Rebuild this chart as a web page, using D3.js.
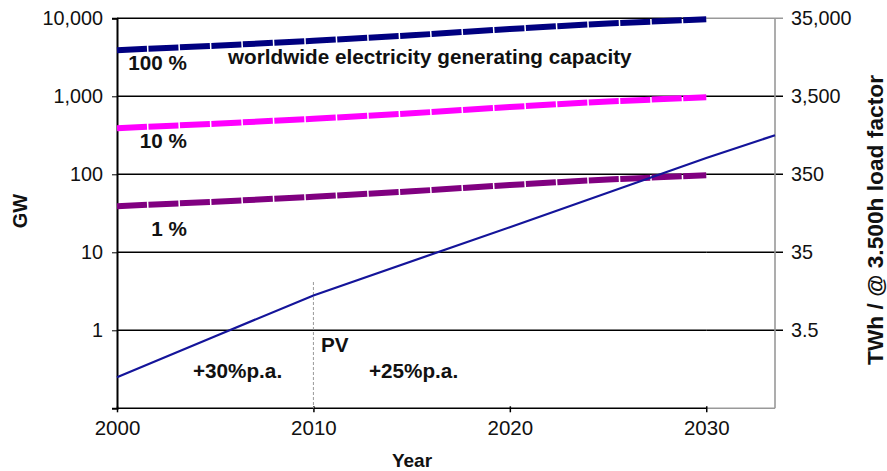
<!DOCTYPE html>
<html>
<head>
<meta charset="utf-8">
<script src="https://cdn.jsdelivr.net/npm/d3@7"></script>
<style>
  html, body { margin: 0; padding: 0; background: #fff; }
  svg text { font-family: "Liberation Sans", Arial, Helvetica, sans-serif; fill: #111; }
</style>
</head>
<body>
<svg id="chart" width="887" height="471"></svg>
<script>
// ---- data ----
const years        = [2000, 2005, 2010, 2015, 2020, 2025, 2030];
const capacity100  = [3900, 4450, 5150, 6050, 7300, 8600, 9700];   // GW, worldwide capacity
const capacity10   = [390, 445, 515, 605, 730, 860, 970];           // 10 %
const capacity1    = [39, 44.5, 51.5, 60.5, 73, 86, 97];            // 1 %
const pvYears      = [2000, 2005, 2010, 2020, 2030, 2033.5];
const pvValues     = [0.25, 0.84, 2.8, 21, 162, 317];                // GW, PV
const xTicks       = [2000, 2010, 2020, 2030];
const leftTicks    = [1, 10, 100, 1000, 10000];
const rightTicks   = [3.5, 35, 350, 3500, 35000];
const seriesLabels = ["100 %", "10 %", "1 %"];
const loadFactorHours = 3500;

// ---- layout ----
const svg = d3.select("#chart");
const pL = 117, pR = 775, pT = 18.3, pB = 408.3;
const x = d3.scaleLinear().domain([2000, 2033.5]).range([pL, pR]);
const y = d3.scaleLog().domain([0.1, 10000]).range([pB, pT]);
const yR = d3.scaleLog().domain([0.1 * loadFactorHours / 1000, 10000 * loadFactorHours / 1000]).range([pB, pT]);
const xEnd = x(2030);

// gridlines
const grid = svg.append("g");
leftTicks.forEach(v => {
  grid.append("line").attr("x1", pL).attr("x2", xEnd).attr("y1", y(v)).attr("y2", y(v))
    .attr("stroke", "#000").attr("stroke-width", 1.4);
  grid.append("line").attr("x1", xEnd).attr("x2", pR + 8).attr("y1", y(v)).attr("y2", y(v))
    .attr("stroke", v === 10000 ? "#999" : "#000").attr("stroke-width", 1.4);
});
// bottom axis line
grid.append("line").attr("x1", pL).attr("x2", xEnd).attr("y1", pB).attr("y2", pB)
  .attr("stroke", "#000").attr("stroke-width", 1.6);
grid.append("line").attr("x1", xEnd).attr("x2", pR).attr("y1", pB).attr("y2", pB)
  .attr("stroke", "#999").attr("stroke-width", 1.6);
// right axis line (gray)
grid.append("line").attr("x1", pR).attr("x2", pR).attr("y1", pT).attr("y2", pB)
  .attr("stroke", "#999").attr("stroke-width", 1.6);

// left axis
const yAxis = d3.axisLeft(y).tickValues(leftTicks).tickFormat(d3.format(",")).tickSize(5).tickPadding(9);
const gy = svg.append("g").attr("transform", `translate(${pL},0)`).call(yAxis);
gy.select(".domain").attr("stroke", "#000").attr("stroke-width", 2);
gy.selectAll(".tick text").style("font-size", "19.8px").attr("fill", "#111");

// right axis labels
const yAxisR = d3.axisRight(yR).tickValues(rightTicks).tickFormat(d3.format(",")).tickSize(0).tickPadding(16);
const gyR = svg.append("g").attr("transform", `translate(${pR},0)`).call(yAxisR);
gyR.select(".domain").remove();
gyR.selectAll(".tick text").style("font-size", "19.8px").attr("fill", "#111");

// bottom axis
const xAxis = d3.axisBottom(x).tickValues(xTicks).tickFormat(d3.format("d")).tickSize(4).tickPadding(8);
const gx = svg.append("g").attr("transform", `translate(0,${pB})`).call(xAxis);
gx.select(".domain").remove();
gx.selectAll(".tick line").attr("stroke", "#000").attr("stroke-width", 1.5).attr("y1", -2);
gx.selectAll(".tick text").style("font-size", "20.5px").attr("fill", "#111");

// dashed PV start marker at 2010
svg.append("line").attr("x1", x(2010)).attr("x2", x(2010)).attr("y1", 282).attr("y2", pB)
  .attr("stroke", "#999").attr("stroke-width", 1).attr("stroke-dasharray", "3,2");

// thick capacity lines
const line = d3.line().x(d => x(d[0])).y(d => y(d[1]));
const thick = [
  {vals: capacity100, color: "#000080"},
  {vals: capacity10,  color: "#ff00ff"},
  {vals: capacity1,   color: "#800080"}
];
thick.forEach(s => {
  svg.append("path").datum(years.map((yr, i) => [yr, s.vals[i]]))
    .attr("d", line).attr("fill", "none").attr("stroke", s.color)
    .attr("stroke-width", 6).attr("stroke-dasharray", "30,1.5");
});

// PV line
svg.append("path").datum(pvYears.map((yr, i) => [yr, pvValues[i]]))
  .attr("d", line).attr("fill", "none").attr("stroke", "#14149a").attr("stroke-width", 2.2);

// labels
const bold = (t, xx, yy, anchor) => svg.append("text").text(t).attr("x", xx).attr("y", yy)
  .attr("text-anchor", anchor || "start").style("font-size", "20.7px").style("font-weight", "bold").attr("fill", "#1a1a1a");
bold(seriesLabels[0], 187, 70, "end");
bold(seriesLabels[1], 187, 148, "end");
bold(seriesLabels[2], 187, 236, "end");
bold("worldwide electricity generating capacity", 228, 64);
bold("+30%p.a.", 193, 378);
bold("PV", 321, 352);
bold("+25%p.a.", 369, 378);

// axis titles
svg.append("text").text("Year").attr("x", 412).attr("y", 467).attr("text-anchor", "middle")
  .style("font-size", "19px").style("font-weight", "bold");
svg.append("text").text("GW").attr("transform", "translate(27,211) rotate(-90)").attr("text-anchor", "middle")
  .style("font-size", "20px").style("font-weight", "bold");
svg.append("text").text("TWh / @ 3.500h load factor").attr("transform", "translate(883,220) rotate(-90)")
  .attr("text-anchor", "middle").attr("textLength", 290).attr("lengthAdjust", "spacingAndGlyphs")
  .style("font-size", "22px").style("font-weight", "bold");
</script>
</body>
</html>
